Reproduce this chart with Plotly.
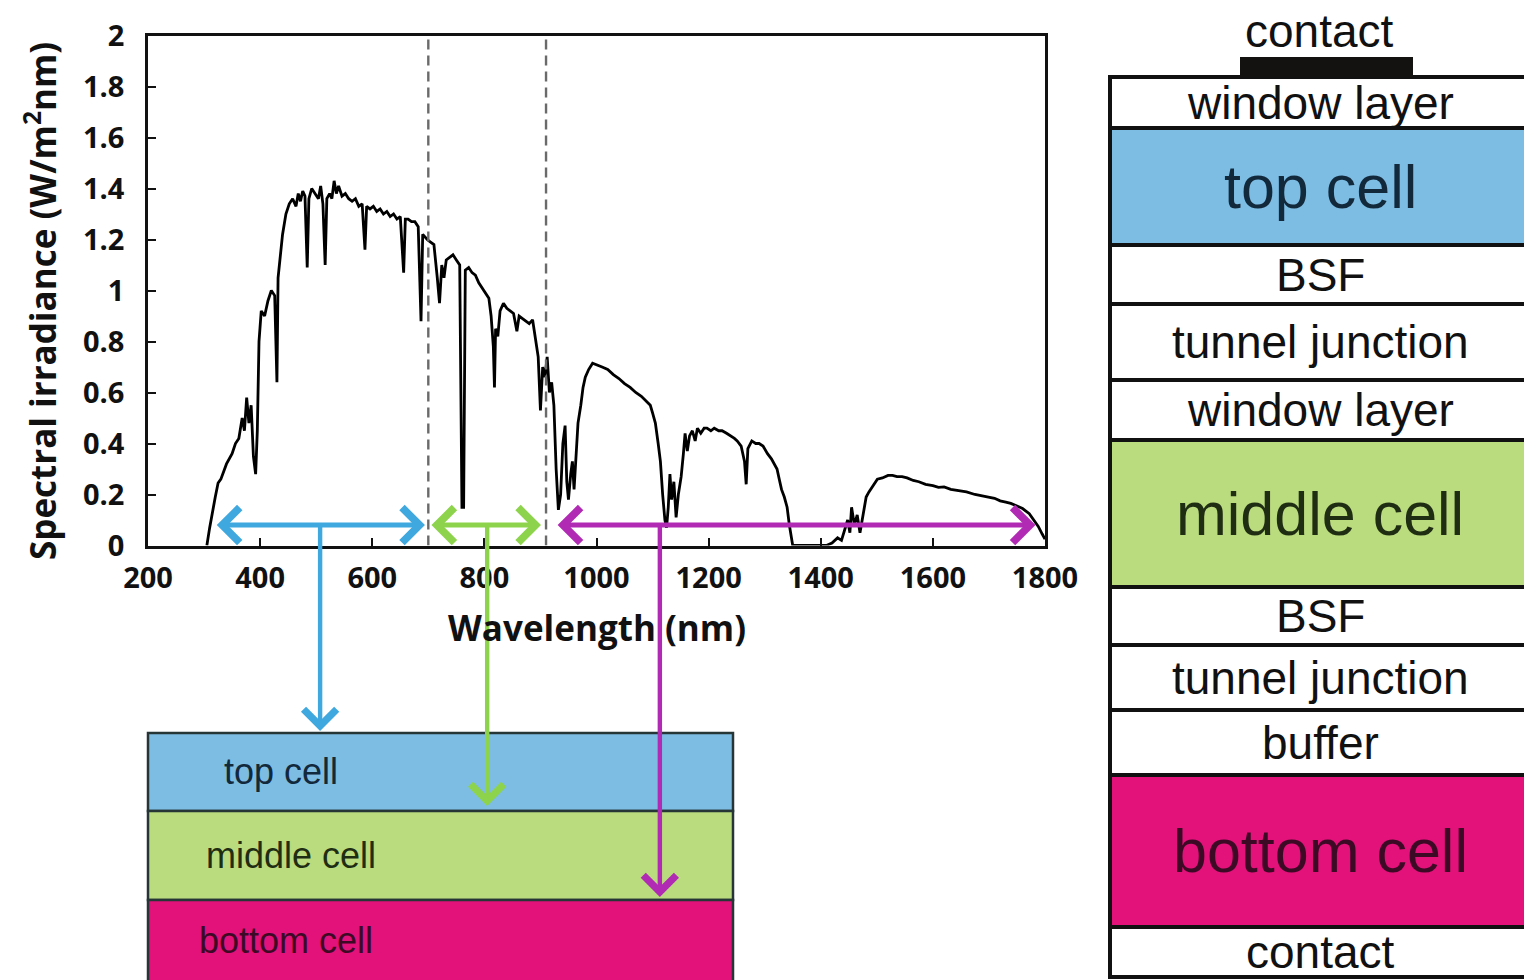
import plotly.graph_objects as go

# Solar spectral irradiance (AM1.5-like), read point by point
wavelength_nm = [
    305, 310, 320, 325, 330, 340, 350, 356, 362, 368, 372, 376, 380, 384, 388, 392, 395, 398,
    402, 408, 414, 420, 426, 430, 432, 436, 440, 446, 452, 458, 464, 468, 472, 476, 480, 484,
    487, 492, 498, 504, 508, 512, 516, 519, 524, 528, 532, 536, 540, 546, 552, 558, 564, 570,
    576, 582, 587, 590, 596, 602, 608, 614, 620, 626, 632, 638, 644, 650, 656, 659, 664, 670,
    676, 682, 687, 690, 694, 698, 704, 710, 716, 720, 724, 728, 732, 738, 744, 750, 756, 760,
    763, 766, 772, 778, 784, 790, 796, 802, 808, 812, 816, 818, 820, 824, 828, 834, 840, 846,
    852, 858, 862, 868, 874, 880, 886, 892, 896, 900, 904, 908, 912, 916, 920, 924, 928, 932,
    936, 940, 944, 947, 950, 954, 957, 960, 964, 967, 972, 976, 980, 986, 993, 1000, 1010, 1020,
    1030, 1040, 1050, 1060, 1070, 1080, 1090, 1096, 1100, 1105, 1110, 1114, 1118, 1122, 1125,
    1128, 1131, 1134, 1138, 1142, 1146, 1151, 1155, 1158, 1162, 1166, 1171, 1176, 1180, 1186,
    1192, 1197, 1204, 1210, 1218, 1224, 1232, 1240, 1246, 1251, 1258, 1264, 1267, 1270, 1277,
    1284, 1290, 1297, 1305, 1312, 1317, 1322, 1326, 1330, 1335, 1340, 1344, 1347, 1350, 1380,
    1410, 1420, 1430, 1437, 1442, 1448, 1452, 1455, 1460, 1465, 1470, 1475, 1481, 1486, 1492,
    1501, 1510, 1520, 1528, 1536, 1545, 1554, 1565, 1575, 1587, 1600, 1610, 1620, 1632, 1645,
    1660, 1675, 1690, 1699, 1710, 1720, 1730, 1739, 1750, 1760, 1772, 1780, 1788, 1795, 1800,
]
irradiance = [
    0.00, 0.07, 0.19, 0.245, 0.26, 0.32, 0.36, 0.40, 0.42, 0.50, 0.45, 0.58, 0.48, 0.55, 0.35, 0.28, 0.45, 0.80,
    0.92, 0.90, 0.96, 1.00, 0.98, 0.64, 1.05, 1.14, 1.22, 1.30, 1.34, 1.36, 1.33, 1.38, 1.35, 1.39, 1.37, 1.09,
    1.36, 1.40, 1.38, 1.36, 1.41, 1.34, 1.10, 1.36, 1.38, 1.36, 1.43, 1.38, 1.41, 1.37, 1.38, 1.36, 1.35, 1.36,
    1.33, 1.34, 1.16, 1.33, 1.32, 1.33, 1.31, 1.32, 1.30, 1.31, 1.29, 1.30, 1.28, 1.29, 1.07, 1.28, 1.28, 1.27,
    1.27, 1.25, 0.88, 1.22, 1.21, 1.20, 1.19, 1.18, 1.05, 0.95, 1.10, 1.05, 1.12, 1.13, 1.14, 1.12, 1.10, 0.15,
    0.15, 1.08, 1.09, 1.07, 1.06, 1.03, 1.01, 0.99, 0.97, 0.90, 0.78, 0.62, 0.85, 0.82, 0.92, 0.95, 0.93, 0.92,
    0.91, 0.84, 0.90, 0.89, 0.88, 0.87, 0.885, 0.80, 0.74, 0.53, 0.70, 0.66, 0.74, 0.60, 0.64, 0.55, 0.30, 0.14,
    0.20, 0.40, 0.47, 0.25, 0.18, 0.28, 0.33, 0.22, 0.40, 0.48, 0.55, 0.62, 0.66, 0.69, 0.715, 0.71, 0.70, 0.69,
    0.67, 0.655, 0.635, 0.62, 0.60, 0.585, 0.565, 0.55, 0.52, 0.48, 0.40, 0.33, 0.20, 0.10, 0.07,
    0.15, 0.28, 0.18, 0.25, 0.11, 0.20, 0.27, 0.36, 0.44, 0.37, 0.43, 0.45, 0.41, 0.46, 0.44,
    0.46, 0.46, 0.45, 0.46, 0.45, 0.45, 0.44, 0.43, 0.42, 0.41, 0.39, 0.33, 0.24, 0.38, 0.41,
    0.40, 0.40, 0.39, 0.36, 0.34, 0.32, 0.30, 0.26, 0.22, 0.19, 0.15, 0.08, 0.04, 0.00, 0.00,
    0.00, 0.01, 0.03, 0.02, 0.06, 0.10, 0.05, 0.15, 0.08, 0.12, 0.05, 0.12, 0.19, 0.21, 0.23,
    0.26, 0.265, 0.275, 0.275, 0.27, 0.27, 0.265, 0.255, 0.25, 0.24, 0.235, 0.228, 0.23, 0.22, 0.215,
    0.21, 0.20, 0.195, 0.19, 0.185, 0.175, 0.17, 0.165, 0.155, 0.145, 0.125, 0.10, 0.075, 0.045, 0.025,
]

# Sub-cell absorption bands (nm) and where each band is routed to its cell
subcell_names = ["top cell", "middle cell", "bottom cell"]
band_start_nm = [320, 703, 928]
band_end_nm = [694, 901, 1783]
band_drop_nm = [507, 805, 1113]
band_level = 0.08
cutoff_nm = [700, 910]

# Epitaxial layer sequence of the triple-junction cell, top to bottom
stack_layers = ["window layer", "top cell", "BSF", "tunnel junction", "window layer",
                "middle cell", "BSF", "tunnel junction", "buffer", "bottom cell", "contact"]

x_title = "Wavelength (nm)"
y_title = "Spectral irradiance (W/m<sup>2</sup>nm)"

# ---- styling / geometry (canvas pixels) ----
W, H = 1524, 980
PLOT_L, PLOT_R, PLOT_T, PLOT_B = 148, 1045, 35.5, 545.5
ARROW_COLORS = ["#3ea8df", "#8dd34b", "#b02ab4"]
CELL_FILL = {"top cell": "#7dbde3", "middle cell": "#badb7e", "bottom cell": "#e3117a"}
CELL_TEXT = {"top cell": "#12283b", "middle cell": "#1f2d12", "bottom cell": "#3d0a26"}
AX_FONT = dict(family="Open Sans", size=29, color="#111111", weight="bold")
TITLE_FONT = dict(family="Open Sans", size=35, color="#111111", weight="bold")
DIAG_FONT = "Liberation Sans"

# Lower-left absorption diagram
mini_left, mini_right = 148, 733
mini_edges = [733, 811, 900, 992]
mini_label_x = [281, 291, 286]
mini_label_y = [771, 855, 940]
drop_tips = [731, 806, 897]
arrow_y_px = PLOT_B - band_level * (PLOT_B - PLOT_T) / 2.0

# Right-hand layer stack
stack_left, stack_right = 1110, 1545
stack_edges = [77, 128, 245, 304, 380, 440, 587, 645, 710, 775, 927, 977]
big_layers = {"top cell", "middle cell", "bottom cell"}

fig = go.Figure()
fig.add_trace(go.Scatter(
    x=wavelength_nm, y=irradiance, mode="lines",
    line=dict(color="#000000", width=2.8), hoverinfo="skip", showlegend=False,
))

shapes = []
annotations = []

# band-edge markers
for c in cutoff_nm:
    shapes.append(dict(type="line", xref="x", yref="y", x0=c, x1=c, y0=0, y1=2,
                       line=dict(color="#6a6a6a", width=2.4, dash="10px,6px"), layer="above"))

# double-headed band arrows on the spectrum
for s, e, col in zip(band_start_nm, band_end_nm, ARROW_COLORS):
    annotations.append(dict(
        x=e, y=band_level, xref="x", yref="y", ax=s, ay=band_level, axref="x", ayref="y",
        text="", showarrow=True, arrowside="end+start", arrowhead=4, startarrowhead=4,
        arrowsize=1.35, startarrowsize=1.35, arrowwidth=5, arrowcolor=col, standoff=0,
        startstandoff=0,
    ))

# arrows routing each band to its sub-cell
for d, tip, col in zip(band_drop_nm, drop_tips, ARROW_COLORS):
    annotations.append(dict(
        x=d, y=tip, xref="x", yref="y2", ax=0, axref="pixel", ay=arrow_y_px, ayref="y2",
        text="", showarrow=True, arrowhead=4, arrowsize=1.45, arrowwidth=4.4,
        arrowcolor=col, standoff=0,
    ))

# axis titles
annotations.append(dict(x=(PLOT_L + PLOT_R) / 2, y=627, xref="x2", yref="y2", text=x_title,
                        showarrow=False, font=TITLE_FONT))
annotations.append(dict(x=40, y=301, xref="x2", yref="y2", text=y_title, textangle=-90,
                        showarrow=False, font=TITLE_FONT))

# lower-left stack of sub-cells
for i, name in enumerate(subcell_names):
    y0, y1 = mini_edges[i], mini_edges[i + 1]
    shapes.append(dict(type="rect", xref="x2", yref="y2", x0=mini_left, x1=mini_right,
                       y0=y0, y1=y1, fillcolor=CELL_FILL[name],
                       line=dict(color="#263636", width=2.5), layer="below"))
    annotations.append(dict(x=mini_label_x[i], y=mini_label_y[i], xref="x2", yref="y2",
                            text=name, showarrow=False,
                            font=dict(family=DIAG_FONT, size=36, color=CELL_TEXT[name])))

# right-hand full layer structure
for i, name in enumerate(stack_layers):
    y0, y1 = stack_edges[i], stack_edges[i + 1]
    is_cell = name in big_layers
    fill = CELL_FILL[name] if is_cell else "#ffffff"
    shapes.append(dict(type="rect", xref="x2", yref="y2", x0=stack_left, x1=stack_right,
                       y0=y0, y1=y1, fillcolor=fill,
                       line=dict(color="#111111", width=4), layer="below"))
    annotations.append(dict(
        x=1320, y=(y0 + y1) / 2, xref="x2", yref="y2", text=name, showarrow=False,
        font=dict(family=DIAG_FONT, size=61 if is_cell else 46,
                  color=CELL_TEXT[name] if is_cell else "#111111"),
    ))

# top contact pad and its label
shapes.append(dict(type="rect", xref="x2", yref="y2", x0=1240, x1=1413, y0=57, y1=77,
                   fillcolor="#141210", line=dict(width=0), layer="below"))
annotations.append(dict(x=1319, y=31, xref="x2", yref="y2", text="contact", showarrow=False,
                        font=dict(family=DIAG_FONT, size=46, color="#111111")))

fig.update_layout(
    width=W, height=H, margin=dict(l=0, r=0, t=0, b=0, pad=0, autoexpand=False),
    paper_bgcolor="#ffffff", plot_bgcolor="rgba(0,0,0,0)", showlegend=False,
    shapes=shapes, annotations=annotations,
    xaxis=dict(
        domain=[PLOT_L / W, PLOT_R / W], range=[200, 1800], dtick=200, tick0=200,
        showgrid=False, zeroline=False, showline=True, linecolor="#111111", linewidth=2.5,
        mirror=True, ticks="inside", ticklen=8, tickwidth=1.5, tickcolor="#111111",
        tickfont=AX_FONT, ticklabelstandoff=5, automargin=False, anchor="y",
    ),
    yaxis=dict(
        domain=[(H - PLOT_B) / H, (H - PLOT_T) / H], range=[0, 2], dtick=0.2,
        showgrid=False, zeroline=False, showline=True, linecolor="#111111", linewidth=2.5,
        mirror=True, ticks="inside", ticklen=8, tickwidth=1.5, tickcolor="#111111",
        tickfont=AX_FONT, ticklabelstandoff=15, automargin=False, anchor="x",
    ),
    xaxis2=dict(domain=[0, 1], range=[0, W], visible=False, anchor="y2", fixedrange=True,
                automargin=False),
    yaxis2=dict(domain=[0, 1], range=[H, 0], visible=False, anchor="x2", fixedrange=True,
                automargin=False),
)

fig.write_html("out.html")
